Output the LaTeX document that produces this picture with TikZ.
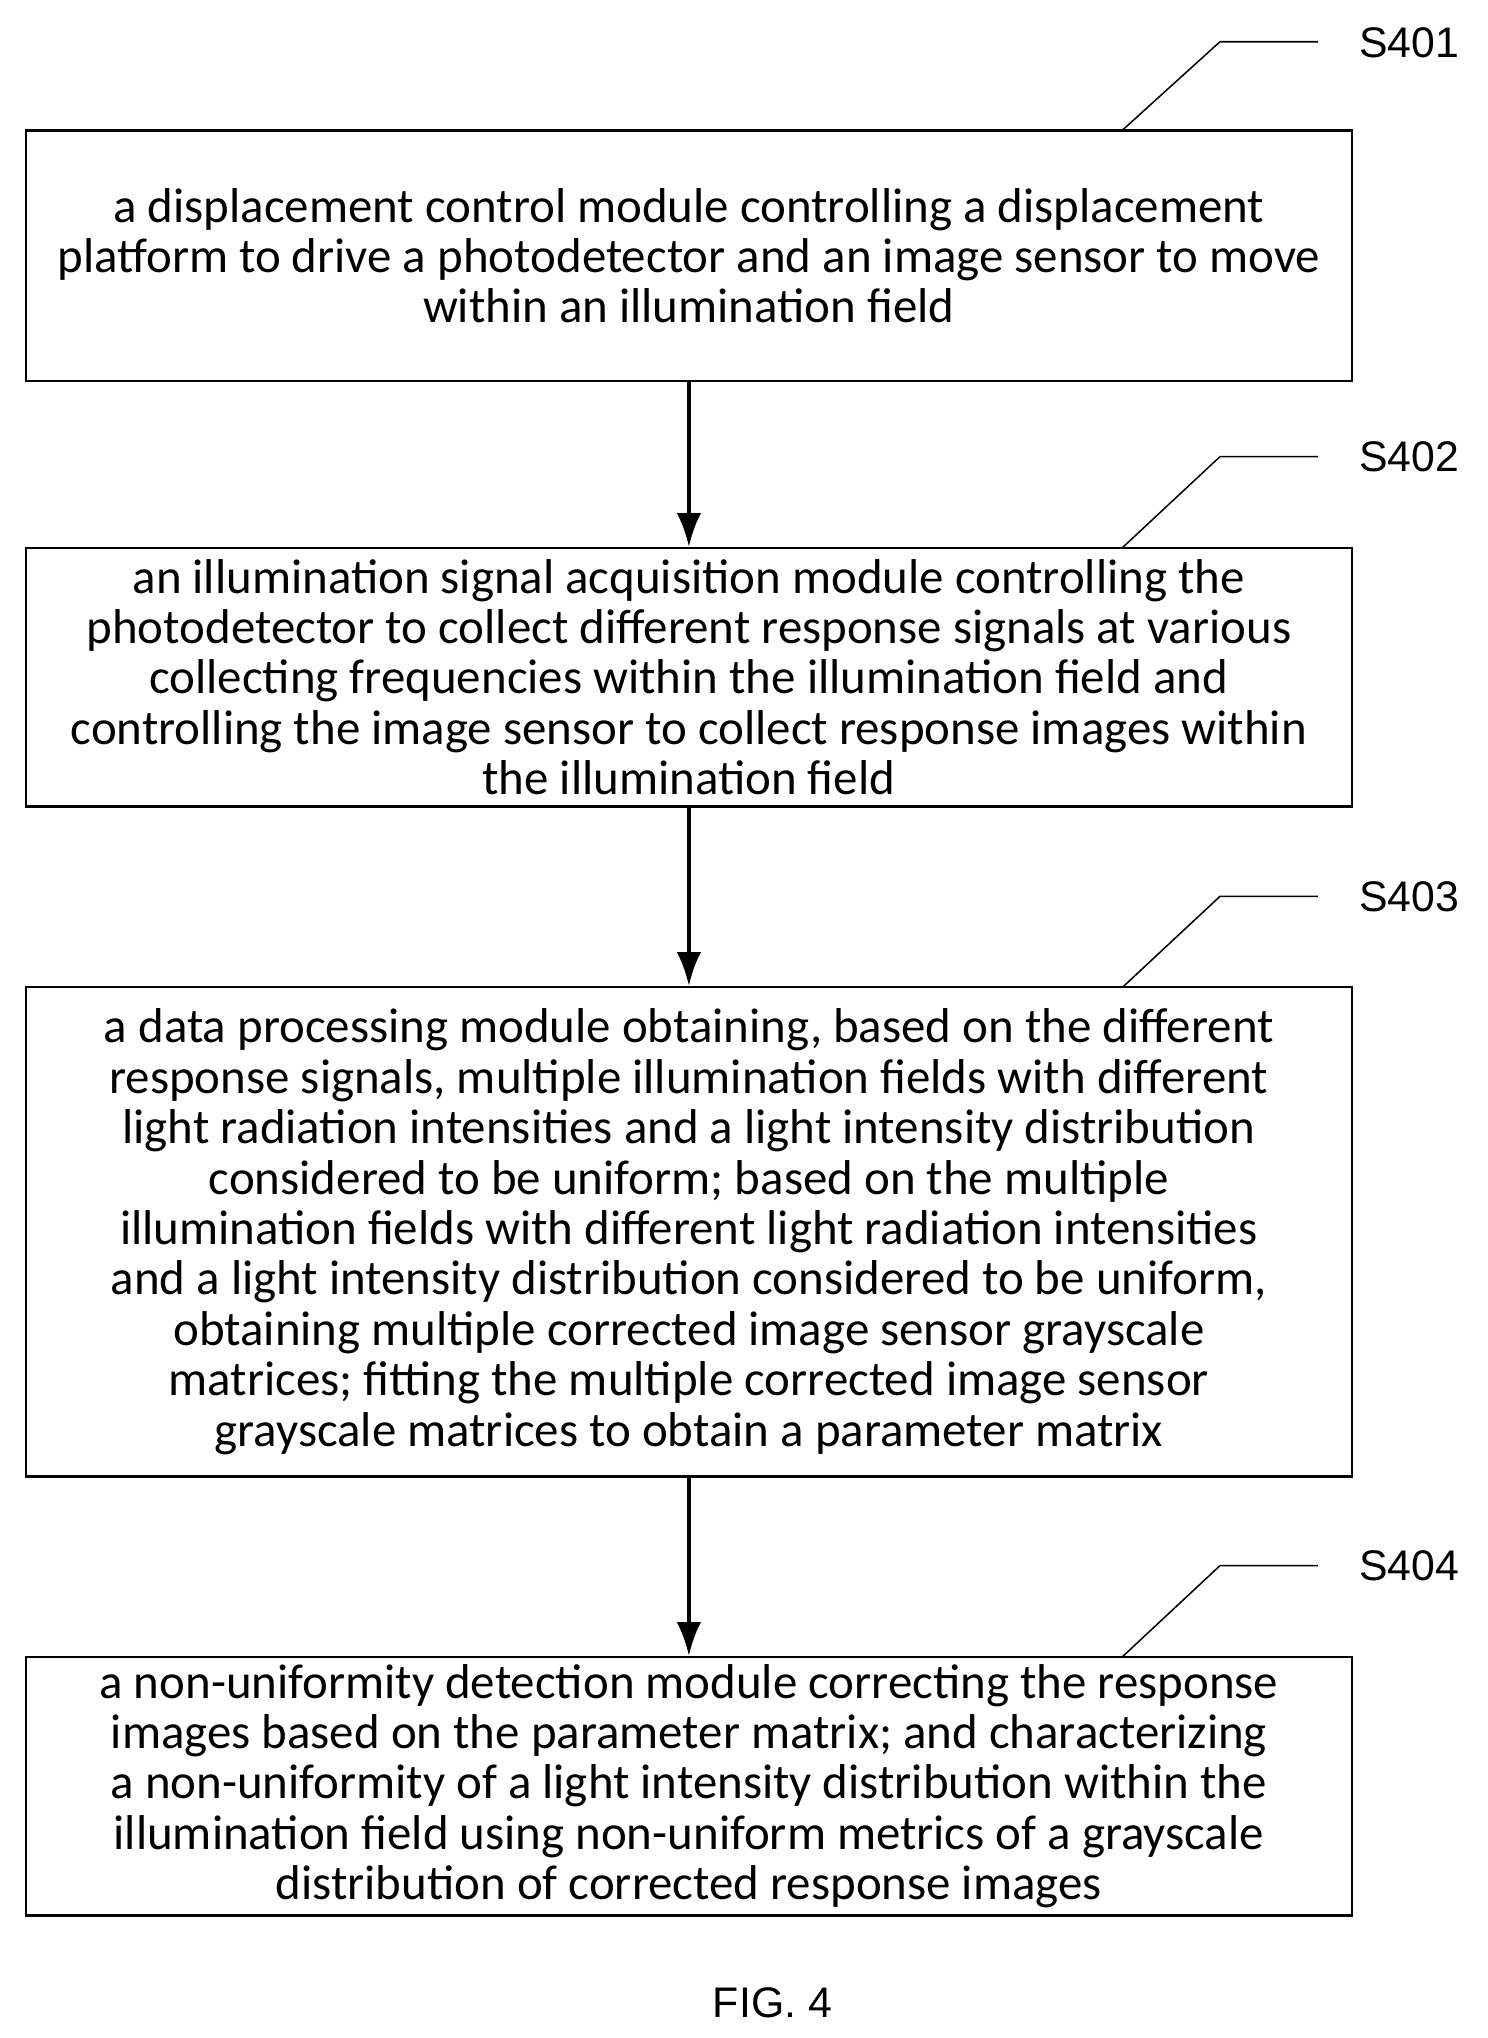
\documentclass[tikz,border=0pt]{standalone}
\usepackage{fontspec}
\usetikzlibrary{arrows.meta}
\setmainfont{Carlito}
\newfontfamily\labelfont{Liberation Sans}
\begin{document}
\begin{tikzpicture}[x=0.03cm,y=-0.03cm,
	stepbox/.style={draw,line width=1.6pt,minimum width=1016*0.03cm,align=center,
		font=\fontsize{32}{33}\selectfont,inner sep=0pt},
	steplabel/.style={font=\labelfont\fontsize{28}{30}\selectfont},
	leader/.style={line width=1pt},
	flow/.style={-{Latex[length=22pt,width=16pt]},line width=2.5pt}]

	\useasboundingbox (0,0) rectangle (1140,1562);

	\node[stepbox,minimum height=192*0.03cm] (s1) at (528,196)
		{a displacement control module controlling a displacement\\
		platform to drive a photodetector and an image sensor to move\\
		within an illumination field};

	\node[stepbox,minimum height=198*0.03cm] (s2) at (528,519)
		{an illumination signal acquisition module controlling the\\
		photodetector to collect different response signals at various\\
		collecting frequencies within the illumination field and\\
		controlling the image sensor to collect response images within\\
		the illumination field};

	\node[stepbox,minimum height=375*0.03cm] (s3) at (528,944)
		{a data processing module obtaining, based on the different\\
		response signals, multiple illumination fields with different\\
		light radiation intensities and a light intensity distribution\\
		considered to be uniform; based on the multiple\\
		illumination fields with different light radiation intensities\\
		and a light intensity distribution considered to be uniform,\\
		obtaining multiple corrected image sensor grayscale\\
		matrices; fitting the multiple corrected image sensor\\
		grayscale matrices to obtain a parameter matrix};

	\node[stepbox,minimum height=198*0.03cm] (s4) at (528,1369)
		{a non-uniformity detection module correcting the response\\
		images based on the parameter matrix; and characterizing\\
		a non-uniformity of a light intensity distribution within the\\
		illumination field using non-uniform metrics of a grayscale\\
		distribution of corrected response images};

	% arrows between the steps
	\draw[flow] (s1) -- (s2);
	\draw[flow] (s2) -- (s3);
	\draw[flow] (s3) -- (s4);

	% step labels
	\node[steplabel] (l1) at (1080,33) {S401};
	\node[steplabel] (l2) at (1080,350) {S402};
	\node[steplabel] (l3) at (1080,687) {S403};
	\node[steplabel] (l4) at (1080,1200) {S404};

	\coordinate (c1) at (860,100);
	\coordinate (c2) at (860,420);
	\coordinate (c3) at (860,757);
	\coordinate (c4) at (860,1270);
	\draw[leader] (c1) -- ++(75,-68) -- ++(75,0);
	\draw[leader] (c2) -- ++(75,-70) -- ++(75,0);
	\draw[leader] (c3) -- ++(75,-70) -- ++(75,0);
	\draw[leader] (c4) -- ++(75,-70) -- ++(75,0);

	\node[font=\labelfont\fontsize{28}{30}\selectfont] (fig) at (592,1535) {FIG. 4};
\end{tikzpicture}
\end{document}
